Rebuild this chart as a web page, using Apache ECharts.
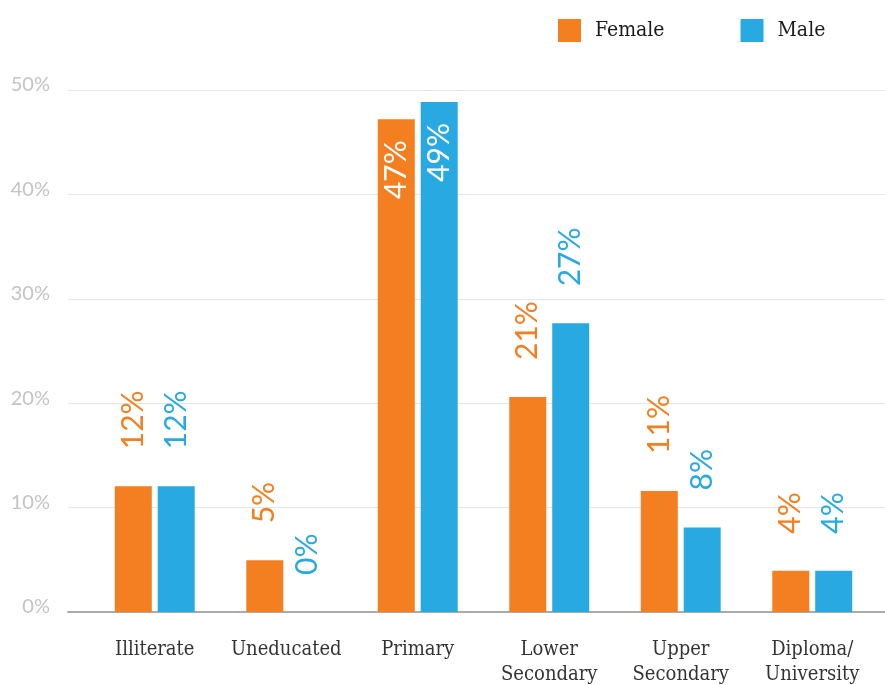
<!DOCTYPE html>
<html>
<head>
<meta charset="utf-8">
<script src="https://cdn.jsdelivr.net/npm/echarts@6/dist/echarts.min.js"></script>
<style>html,body{margin:0;padding:0;background:#fff}#c{width:885px;height:685px}</style>
</head>
<body>
<div id="c"></div>
<script>
const categories = ['Illiterate', 'Uneducated', 'Primary', 'Lower\nSecondary', 'Upper\nSecondary', 'Diploma/\nUniversity'];
const femaleValues = [12.05, 4.95, 47.2, 20.6, 11.6, 3.95];
const maleValues = [12.05, 0, 48.85, 27.65, 8.1, 3.95];
const femaleLabels = ['12%', '5%', '47%', '21%', '11%', '4%'];
const maleLabels = ['12%', '0%', '49%', '27%', '8%', '4%'];
const yTicks = [0, 10, 20, 30, 40, 50];

const ORANGE = '#F47F20';
const BLUE = '#29A9E1';
const insideIdx = 2;
const SERIF = "'DejaVu Serif Condensed', 'DejaVu Serif', serif";

function makeData(vals, labels, color) {
  return vals.map((v, i) => {
    const inside = i === insideIdx;
    return {
      value: v,
      label: {
        show: true,
        formatter: labels[i],
        rotate: 90,
        position: inside ? 'insideTop' : 'top',
        align: inside ? 'right' : 'left',
        verticalAlign: 'middle',
        distance: inside ? 21 : 37,
        color: inside ? '#ffffff' : color,
        fontFamily: 'Lato',
        fontSize: 30
      }
    };
  });
}

const chart = echarts.init(document.getElementById('c'), null, {renderer: 'canvas'});
chart.setOption({
  animation: false,
  legend: {
    left: 553, top: 14,
    itemWidth: 23, itemHeight: 23,
    itemGap: 76,
    icon: 'rect',
    textStyle: {fontFamily: SERIF, fontSize: 21, color: '#1a1a1a', padding: [0, 0, 0, 9]},
    data: ['Female', 'Male']
  },
  grid: [
    {left: 68, right: 0, top: 90, bottom: 73, outerBoundsMode: 'none', containLabel: false},
    {left: 89, right: 7, top: 90, bottom: 73, outerBoundsMode: 'none', containLabel: false}
  ],
  xAxis: [
    {gridIndex: 0, type: 'category', data: categories, axisLabel: {show: false}, axisTick: {show: false},
     axisLine: {lineStyle: {color: '#aaaaaa', width: 2}}},
    {gridIndex: 1, type: 'category', data: categories, axisTick: {show: false}, axisLine: {show: false},
     axisLabel: {margin: 25, interval: 0, fontFamily: SERIF, fontSize: 20, color: '#333', lineHeight: 25}}
  ],
  yAxis: [
    {gridIndex: 0, type: 'value', min: yTicks[0], max: yTicks[yTicks.length - 1], interval: 10,
     axisLabel: {formatter: '{value}%', margin: 18, fontFamily: 'Lato', fontSize: 20, color: '#c4c4c4', verticalAlign: 'bottom', lineHeight: 10},
     axisLine: {show: false}, axisTick: {show: false},
     splitLine: {lineStyle: {color: '#e6e6e6', width: 1}}},
    {gridIndex: 1, type: 'value', min: 0, max: 50, interval: 10, show: false, splitLine: {show: false}}
  ],
  series: [
    {name: 'Female', type: 'bar', xAxisIndex: 1, yAxisIndex: 1, barWidth: 37, barGap: '16%',
     itemStyle: {color: ORANGE}, data: makeData(femaleValues, femaleLabels, ORANGE)},
    {name: 'Male', type: 'bar', xAxisIndex: 1, yAxisIndex: 1, barWidth: 37, barGap: '16%',
     itemStyle: {color: BLUE}, data: makeData(maleValues, maleLabels, BLUE)}
  ]
});
</script>
</body>
</html>
